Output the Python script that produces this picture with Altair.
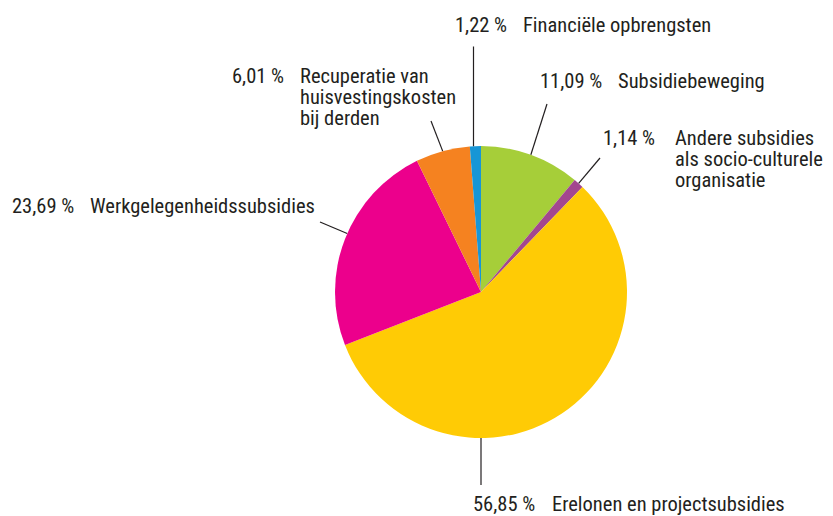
import math
import altair as alt
import pandas as pd

# ---- data ----
categories = [
    "Subsidiebeweging",
    "Andere subsidies als socio-culturele organisatie",
    "Erelonen en projectsubsidies",
    "Werkgelegenheidssubsidies",
    "Recuperatie van huisvestingskosten bij derden",
    "Financiële opbrengsten",
]
values = [11.09, 1.14, 56.85, 23.69, 6.01, 1.22]
label_lines = [
    ["Subsidiebeweging"],
    ["Andere subsidies", "als socio-culturele", "organisatie"],
    ["Erelonen en projectsubsidies"],
    ["Werkgelegenheidssubsidies"],
    ["Recuperatie van", "huisvestingskosten", "bij derden"],
    ["Financiële opbrengsten"],
]
colors = ["#a6ce39", "#a3478f", "#ffcb05", "#ec008c", "#f58220", "#1796d6"]

# ---- layout ----
CX, CY, R = 481, 292, 146
FONT = "Roboto Condensed"
FS = 20.5
LINE_H = 21
TEXT_COLOR = "#231f20"
# (pct x, name x, first baseline y, leader outer x, leader outer y, anchor angle override in degrees or None)
layout = [
    (540, 618, 88, 547, 104, None),
    (603, 675, 145, 600, 158, None),
    (473, 552, 511, 481, 485, 180.0),
    (12, 90, 213, 320, 222, 293.6),
    (232, 300, 83, 431, 121, None),
    (455, 523, 32, 473.5, 46.5, 357.06),
]

def fmt(v):
    return f"{v:.2f}".replace(".", ",") + " %"

slices = pd.DataFrame({
    "category": categories,
    "value": values,
    "order": list(range(len(values))),
})

total = sum(values)
rules, texts = [], []
cum = 0.0
for i, v in enumerate(values):
    mid = (cum + v / 2) / total * 360.0
    cum += v
    px, nx, by, ox, oy, ang = layout[i]
    a = math.radians(ang if ang is not None else mid)
    ix, iy = CX + R * math.sin(a), CY - R * math.cos(a)
    rules.append({"x": ox, "y": oy, "x2": ix, "y2": iy})
    texts.append({"x": px, "y": by, "t": fmt(v)})
    for k, line in enumerate(label_lines[i]):
        texts.append({"x": nx, "y": by + k * LINE_H, "t": line})

pie = alt.Chart(slices).mark_arc(radius=R).encode(
    theta=alt.Theta("value:Q", stack=True),
    order=alt.Order("order:Q"),
    color=alt.Color("category:N", scale=alt.Scale(domain=categories, range=colors), legend=None),
    x=alt.value(CX),
    y=alt.value(CY),
)

leaders = alt.Chart(pd.DataFrame(rules)).mark_rule(color=TEXT_COLOR, strokeWidth=1.2).encode(
    x=alt.X("x:Q", scale=None, axis=None),
    y=alt.Y("y:Q", scale=None, axis=None),
    x2="x2:Q",
    y2="y2:Q",
)

labels = alt.Chart(pd.DataFrame(texts)).mark_text(
    align="left", baseline="alphabetic", font=FONT, fontSize=FS, color=TEXT_COLOR
).encode(
    x=alt.X("x:Q", scale=None, axis=None),
    y=alt.Y("y:Q", scale=None, axis=None),
    text="t:N",
)

chart = alt.layer(pie, leaders, labels).properties(
    width=833, height=516, autosize=alt.AutoSizeParams(type="none"), padding=0, background="white"
).configure_view(stroke=None)

chart.save("out.html", embed_options={"renderer": "svg", "actions": False})
